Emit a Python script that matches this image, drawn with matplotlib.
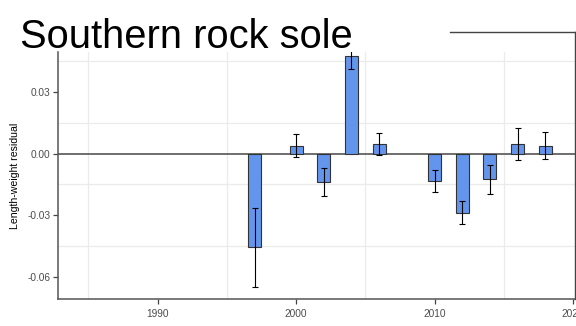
import matplotlib
matplotlib.use("Agg")
import matplotlib.pyplot as plt
from matplotlib.lines import Line2D

years = [1997, 2000, 2002, 2004, 2006, 2010, 2012, 2014, 2016, 2018]
residuals = [-0.0456, 0.0039, -0.0137, 0.0473, 0.0048, -0.0134, -0.0287, -0.0125, 0.0046, 0.0039]
errors = [0.0193, 0.0056, 0.0068, 0.0062, 0.0053, 0.0055, 0.0056, 0.0070, 0.0077, 0.0065]
xticks = [1990, 2000, 2010, 2020]
yticks = [0.03, 0.00, -0.03, -0.06]
title = "Southern rock sole"
ylabel = "Length-weight residual"

plt.rcParams['font.family'] = ['Liberation Sans', 'DejaVu Sans']

W, H = 576, 326
fig = plt.figure(figsize=(W / 100, H / 100), dpi=100)
ax = fig.add_axes([58 / W, 1 - 299 / H, (575 - 58) / W, (299 - 52) / H])

ax.set_xlim(1982.8, 2020.15)
ax.set_ylim(-0.0706, 0.0493)

for x in [1985, 1995, 2005, 2015]:
    ax.axvline(x, color="#ebebeb", lw=0.9, zorder=0)
for y in [0.045, 0.015, -0.015, -0.045]:
    ax.axhline(y, color="#ebebeb", lw=0.9, zorder=0)

ax.axhline(0, color="#555555", lw=1.2, zorder=1)
ax.bar(years, residuals, width=0.95, color="#6495ED", edgecolor="#333333", linewidth=0.8, zorder=2)
ax.errorbar(years, residuals, yerr=errors, fmt="none", ecolor="black", elinewidth=0.8,
            capsize=2, capthick=0.8, zorder=3)

ax.set_xticks(xticks)
ax.set_xticklabels([str(v) for v in xticks])
ax.set_yticks(yticks)
ax.set_yticklabels([f"{v:.2f}" for v in yticks])
ax.tick_params(axis="both", colors="#444444", labelcolor="#4d4d4d", labelsize=7.3, length=3.5, width=0.9, pad=2)
ax.tick_params(axis="x", pad=3.5)

ax.spines["top"].set_visible(False)
ax.spines["right"].set_visible(False)
for s in ["left", "bottom"]:
    ax.spines[s].set_color("#555555")
    ax.spines[s].set_linewidth(1.1)

ax.set_ylabel(ylabel, fontsize=7.6, color="black", labelpad=5)

fig.text(20 / W, 1 - 48 / H, title, fontsize=28.7, color="black", ha="left", va="baseline")

fig.add_artist(Line2D([450 / W, 575 / W], [1 - 32 / H, 1 - 32 / H], transform=fig.transFigure, color="#444444", lw=1.0))
fig.add_artist(Line2D([575 / W, 575 / W], [1 - 32 / H, 1 - 299 / H], transform=fig.transFigure, color="#444444", lw=1.0))

fig.savefig("out.png", dpi=100)
